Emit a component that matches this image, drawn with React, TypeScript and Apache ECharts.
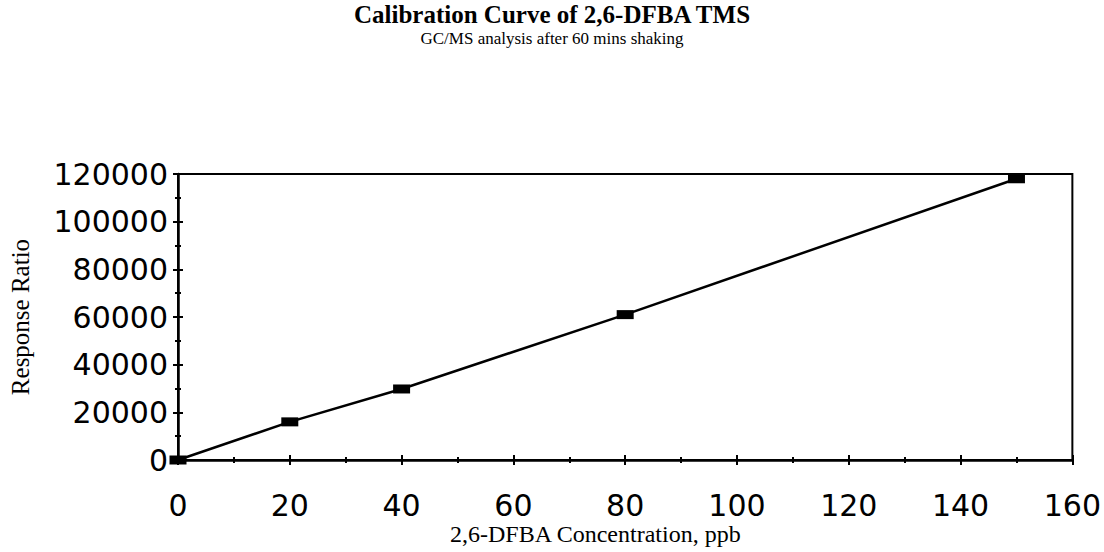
import React, { useEffect, useRef } from "react";
import * as echarts from "echarts";

const titleText = "Calibration Curve of 2,6-DFBA TMS";
const subtitleText = "GC/MS analysis after 60 mins shaking";
const xName = "2,6-DFBA Concentration, ppb";
const yName = "Response Ratio";

const concentrations = [0, 20, 40, 80, 150];
const responses = [0, 16000, 29800, 61000, 118000];

const xMin = 0;
const xMax = 160;
const xStep = 20;
const yMin = 0;
const yMax = 120000;
const yStep = 20000;

export default function App() {
  const ref = useRef<HTMLDivElement>(null);
  useEffect(() => {
    if (!ref.current) return;
    const chart = echarts.init(ref.current, null, { renderer: "svg" });
    const labelFont = {
      fontFamily: "DejaVu Sans",
      fontSize: 30,
      color: "#000",
      formatter: (v: number) => String(v),
    };
    const tickStyle = { color: "#000", width: 2 };
    const baseX = {
      type: "value" as const,
      min: xMin,
      max: xMax,
      interval: xStep,
      position: "bottom" as const,
      splitLine: { show: false },
    };
    const baseY = {
      type: "value" as const,
      min: yMin,
      max: yMax,
      interval: yStep,
      position: "left" as const,
      splitLine: { show: false },
    };
    chart.setOption({
      animation: false,
      backgroundColor: "#fff",
      title: [
        {
          text: titleText,
          left: "center",
          top: -3,
          textStyle: {
            fontFamily: "Liberation Serif",
            fontWeight: "bold",
            fontSize: 25,
            color: "#000",
          },
        },
        {
          text: subtitleText,
          left: "center",
          top: 25,
          textStyle: {
            fontFamily: "Liberation Serif",
            fontWeight: "normal",
            fontSize: 17,
            color: "#000",
          },
        },
      ],
      grid: {
        left: 178,
        right: 27,
        top: 174,
        bottom: 92,
        show: true,
        borderColor: "#000",
        borderWidth: 2,
        backgroundColor: "transparent",
      },
      graphic: [
        {
          type: "text",
          left: 600 - 150,
          top: 522,
          style: {
            text: xName,
            fontFamily: "Liberation Serif",
            fontSize: 24,
            fill: "#000",
            width: 300,
            align: "center",
          },
        },
        {
          type: "text",
          x: 20,
          y: 317,
          rotation: Math.PI / 2,
          style: {
            text: yName,
            fontFamily: "Liberation Serif",
            fontSize: 25,
            fill: "#000",
            align: "center",
            verticalAlign: "middle",
          },
        },
      ],
      xAxis: [
        {
          ...baseX,
          axisLine: { show: true, lineStyle: { color: "#000", width: 2.5 } },
          axisTick: { show: true, inside: false, length: 5, lineStyle: tickStyle },
          minorTick: { show: true, splitNumber: 2, length: 3, lineStyle: tickStyle },
          axisLabel: { ...labelFont, margin: 30 },
        },
        {
          ...baseX,
          axisLine: { show: false },
          axisTick: { show: true, inside: true, length: 5, lineStyle: tickStyle },
          minorTick: { show: true, splitNumber: 2, length: 3, lineStyle: tickStyle },
          axisLabel: { show: false },
        },
      ],
      yAxis: [
        {
          ...baseY,
          axisLine: { show: true, lineStyle: { color: "#000", width: 2.5 } },
          axisTick: { show: true, inside: false, length: 5, lineStyle: tickStyle },
          minorTick: { show: true, splitNumber: 2, length: 3, lineStyle: tickStyle },
          axisLabel: { ...labelFont, margin: 10 },
        },
        {
          ...baseY,
          axisLine: { show: false },
          axisTick: { show: true, inside: true, length: 5, lineStyle: tickStyle },
          minorTick: { show: true, splitNumber: 2, length: 3, lineStyle: tickStyle },
          axisLabel: { show: false },
        },
      ],
      series: [
        {
          type: "line",
          xAxisIndex: 0,
          yAxisIndex: 0,
          data: concentrations.map((c, i) => [c, responses[i]]),
          lineStyle: { color: "#000", width: 2.5 },
          itemStyle: { color: "#000" },
          symbol: "rect",
          symbolSize: [17, 9],
          clip: false,
        },
      ],
    });
    return () => chart.dispose();
  }, []);
  return (
    <div
      ref={ref}
      style={{ position: "absolute", left: 0, top: 0, width: 1104, height: 552 }}
    />
  );
}
